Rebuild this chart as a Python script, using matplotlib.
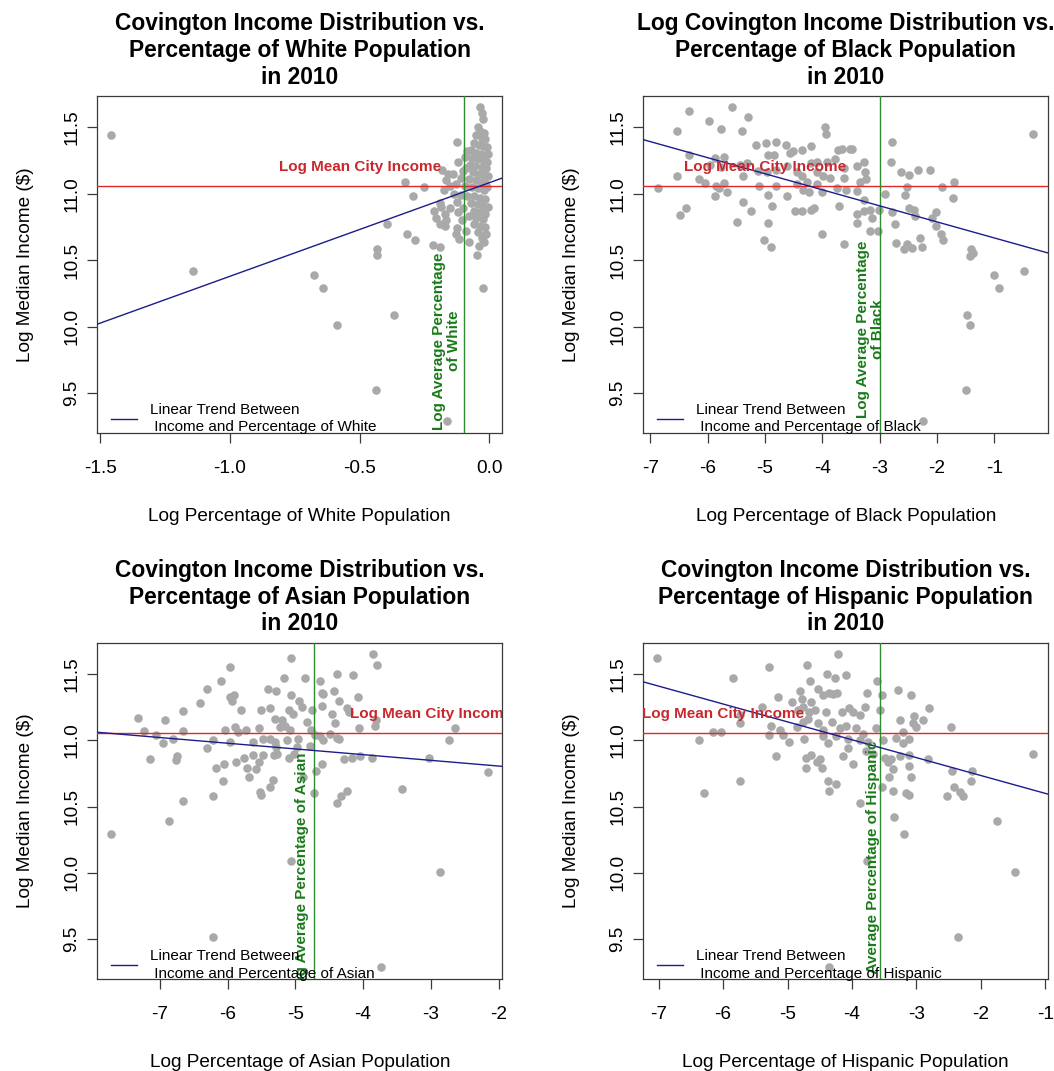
import matplotlib
matplotlib.use("Agg")
import matplotlib.pyplot as plt
from matplotlib.lines import Line2D

plt.rcParams["font.family"] = ["Liberation Sans", "DejaVu Sans"]
plt.rcParams["axes.unicode_minus"] = False

# ---- Covington census tracts, 2010: log share of each group vs log median income ----
white_x = [-1.457, -1.143, -0.677, -0.642, -0.586, -0.438, -0.433, -0.433, -0.393, -0.366,
           -0.326, -0.318, -0.293, -0.286, -0.250, -0.216, -0.190, -0.162, -0.123, -0.046,
           -0.024, -0.183, -0.215, -0.190, -0.205,
           -0.036, -0.030, -0.026, -0.045, -0.035, -0.020, -0.050, -0.028, -0.015, -0.060,
           -0.040, -0.025, -0.010, -0.070, -0.085, -0.050, -0.032, -0.018, -0.005, -0.095,
           -0.065, -0.042, -0.020, -0.008, -0.120, -0.075, -0.055, -0.030, -0.012, -0.088,
           -0.100, -0.140, -0.062, -0.040, -0.022, -0.005, -0.110, -0.078, -0.050, -0.030,
           -0.015, -0.160, -0.165, -0.150, -0.130, -0.095, -0.068, -0.042, -0.020, -0.008,
           -0.175, -0.135, -0.110, -0.085, -0.058, -0.035, -0.015, -0.125, -0.070, -0.045,
           -0.025, -0.005, -0.190, -0.185, -0.150, -0.100, -0.060, -0.035, -0.015, -0.170,
           -0.120, -0.080, -0.050, -0.025, -0.165, -0.105, -0.060, -0.035, -0.015, -0.170,
           -0.125, -0.090, -0.045, -0.022, -0.130, -0.115, -0.080, -0.030, -0.012, -0.040,
           -0.020]
white_y = [11.445, 10.42, 10.387, 10.29, 10.01, 9.523, 10.58, 10.54, 10.77, 10.086,
           11.09, 10.70, 10.98, 10.65, 11.05, 10.616, 10.60, 9.29, 11.39, 10.535,
           10.29, 11.18, 10.87, 10.77, 10.82,
           11.65, 11.61, 11.56, 11.50, 11.47, 11.46, 11.44, 11.42, 11.41, 11.38,
           11.37, 11.36, 11.35, 11.33, 11.32, 11.31, 11.30, 11.29, 11.30, 11.28,
           11.27, 11.26, 11.25, 11.24, 11.24, 11.22, 11.21, 11.20, 11.19, 11.19,
           11.17, 11.15, 11.16, 11.15, 11.14, 11.13, 11.12, 11.11, 11.10, 11.09,
           11.08, 11.15, 11.10, 11.06, 11.07, 11.06, 11.05, 11.04, 11.03, 11.05,
           11.03, 11.00, 10.99, 10.98, 10.98, 10.97, 10.96, 10.94, 10.93, 10.92,
           10.91, 10.90, 10.93, 10.90, 10.89, 10.89, 10.87, 10.86, 10.85, 10.85,
           10.86, 10.83, 10.82, 10.81, 10.80, 10.80, 10.77, 10.76, 10.75, 10.76,
           10.74, 10.72, 10.71, 10.69, 10.70, 10.66, 10.64, 10.67, 10.70, 10.61,
           10.64]

black_x = [-6.32, -5.58, -5.30, -5.97, -6.54, -5.77, -5.40, -3.95, -3.94, -0.32,
           -6.32, -5.87, -5.71, -5.16, -4.99, -4.80, -4.63, -4.52, -4.35, -4.19,
           -4.94, -4.84, -4.56, -3.72, -3.66, -3.52, -3.48, -2.78, -6.54, -6.16,
           -6.05, -5.85, -5.81, -5.71, -5.87, -5.67, -5.39, -5.39, -5.25, -5.48,
           -5.10, -4.95, -4.87, -4.94, -4.80, -4.62, -4.48, -4.35, -4.19, -4.15,
           -4.01, -4.00, -3.71, -3.62, -5.02, -4.90, -6.38, -6.49, -6.87, -5.96,
           -5.76, -5.44, -5.32, -5.12, -4.97, -4.80, -4.62, -4.45, -4.36, -4.27,
           -4.10, -3.98, -3.87, -3.78, -4.19, -4.10, -3.92, -3.63, -3.63, -3.40,
           -3.28, -3.26, -3.34, -3.23, -3.75, -3.58, -3.40, -3.28, -3.40, -3.28,
           -3.17, -3.14, -3.40, -3.17, -3.03, -3.01, -4.45, -4.33, -4.24, -4.10,
           -2.81, -2.91, -2.79, -2.73, -2.72, -2.62, -2.48, -2.34, -2.12, -2.53,
           -2.55, -2.48, -2.41, -2.38, -2.30, -2.27, -2.58, -2.53, -2.44, -2.09,
           -2.02, -2.02, -1.93, -1.89, -1.92, -1.72, -1.70, -1.40, -1.37, -1.42,
           -1.01, -0.92, -0.49, -1.48, -1.43, -1.49, -2.25]
black_y = [11.62, 11.65, 11.58, 11.55, 11.47, 11.49, 11.47, 11.50, 11.45, 11.45,
           11.29, 11.27, 11.28, 11.37, 11.38, 11.39, 11.37, 11.32, 11.33, 11.36,
           11.29, 11.29, 11.31, 11.33, 11.34, 11.34, 11.34, 11.39, 11.13, 11.11,
           11.08, 11.06, 11.04, 11.08, 10.98, 11.01, 11.13, 10.94, 10.87, 10.79,
           11.06, 10.99, 10.91, 10.78, 11.06, 10.98, 10.87, 10.87, 10.88, 10.89,
           11.01, 10.70, 10.91, 10.62, 10.65, 10.60, 10.89, 10.84, 11.04, 11.22,
           11.20, 11.22, 11.23, 11.17, 11.16, 11.18, 11.21, 11.16, 11.13, 11.09,
           11.07, 11.13, 11.12, 11.26, 11.23, 11.24, 11.24, 11.19, 11.12, 11.21,
           11.24, 11.16, 11.09, 11.11, 11.04, 11.03, 11.02, 10.95, 10.85, 10.87,
           10.88, 10.82, 10.78, 10.72, 10.72, 10.88, 11.07, 11.03, 11.01, 11.16,
           11.24, 11.00, 10.86, 10.77, 10.63, 11.16, 11.14, 11.18, 11.18, 11.05,
           10.99, 10.89, 10.88, 10.83, 10.67, 10.60, 10.58, 10.62, 10.59, 10.82,
           10.86, 10.76, 10.70, 10.65, 11.05, 10.97, 11.09, 10.58, 10.55, 10.53,
           10.39, 10.29, 10.42, 10.09, 10.01, 9.52, 9.29]

asian_x = [-5.06, -3.86, -3.79, -5.97, -6.09, -6.30, -6.41, -6.66, -7.32, -6.93,
           -5.17, -4.86, -4.64, -4.38, -4.15, -5.40, -5.29, -5.06, -5.96, -5.91,
           -5.94, -5.80, -5.50, -5.37, -4.94, -4.90, -5.09, -5.03, -5.20, -5.30,
           -4.83, -4.76, -4.61, -4.59, -4.43, -4.35, -4.08, -4.61, -4.46, -4.41,
           -4.24, -4.20, -4.06, -3.82, -3.81, -2.64, -2.73, -3.02, -2.16, -3.42,
           -7.24, -7.06, -6.66, -6.95, -6.81, -6.31, -6.21, -6.04, -5.89, -5.73,
           -5.54, -5.96, -5.84, -5.62, -5.48, -5.37, -5.30, -5.12, -4.96, -4.77,
           -4.71, -4.64, -4.49, -4.39, -4.35, -5.29, -7.15, -6.74, -6.76, -6.17,
           -6.05, -5.87, -5.76, -5.63, -5.48, -5.53, -5.58, -5.72, -5.68, -5.32,
           -5.27, -5.09, -5.02, -4.98, -6.07, -5.33, -5.38, -5.52, -5.50, -6.21,
           -6.66, -6.87, -7.72, -5.07, -4.61, -4.69, -4.72, -4.39, -4.32, -4.23,
           -4.28, -4.17, -4.05, -3.87, -2.87, -6.22, -3.74, -4.88, -4.78, -4.59,
           -5.23, -5.15, -5.08]
asian_y = [11.62, 11.65, 11.57, 11.55, 11.45, 11.39, 11.28, 11.22, 11.17, 11.15,
           11.47, 11.47, 11.45, 11.50, 11.49, 11.39, 11.37, 11.34, 11.33, 11.34,
           11.30, 11.23, 11.23, 11.24, 11.30, 11.25, 11.23, 11.20, 11.15, 11.16,
           11.14, 11.23, 11.36, 11.35, 11.37, 11.30, 11.33, 11.26, 11.20, 11.13,
           11.24, 11.21, 11.09, 11.11, 11.15, 11.09, 11.00, 10.87, 10.76, 10.63,
           11.07, 11.04, 11.07, 10.98, 11.01, 10.94, 11.00, 11.08, 11.10, 11.08,
           11.09, 10.99, 11.06, 10.99, 11.01, 11.01, 10.99, 11.00, 11.01, 11.08,
           11.04, 11.03, 11.05, 11.02, 11.01, 10.95, 10.86, 10.88, 10.85, 10.79,
           10.82, 10.84, 10.87, 10.89, 10.89, 10.84, 10.78, 10.79, 10.72, 10.89,
           10.90, 10.87, 10.90, 10.95, 10.69, 10.70, 10.65, 10.61, 10.59, 10.58,
           10.54, 10.39, 10.29, 10.09, 10.82, 10.77, 10.60, 10.53, 10.58, 10.62,
           10.86, 10.87, 10.88, 10.87, 10.01, 9.52, 9.29, 10.72, 10.96, 11.00,
           11.10, 11.11, 11.08]

hispanic_x = [-7.02, -5.85, -5.29, -4.69, -4.21, -4.38, -4.27, -4.10, -4.65, -3.61,
              -4.53, -4.36, -4.29, -4.23, -4.80, -5.14, -4.93, -4.78, -4.63, -4.45,
              -3.76, -3.53, -3.28, -3.08, -5.40, -4.84, -4.76, -4.66, -4.57, -4.40,
              -4.15, -4.04, -3.98, -3.88, -3.79, -3.57, -2.81, -3.04, -2.89, -3.25,
              -3.00, -3.05, -2.46, -1.19, -5.74, -5.74, -6.16, -6.03, -6.37, -5.26,
              -5.12, -5.07, -4.86, -4.76, -4.68, -4.53, -4.45, -4.31, -4.18, -4.09,
              -3.93, -3.83, -3.63, -5.28, -4.98, -4.75, -4.45, -4.37, -4.24, -4.06,
              -3.88, -3.75, -3.52, -3.31, -3.21, -3.12, -3.21, -5.18, -4.72, -4.63,
              -4.50, -4.55, -4.71, -4.47, -4.14, -4.06, -3.98, -3.78, -3.68, -3.49,
              -3.39, -3.44, -3.26, -3.11, -3.12, -2.82, -3.08, -3.43, -3.36, -2.44,
              -2.13, -2.16, -2.41, -2.33, -2.28, -2.53, -3.16, -3.11, -3.36, -3.53,
              -4.37, -4.24, -4.35, -5.74, -6.30, -3.88, -3.35, -3.19, -1.75, -1.47,
              -3.76, -2.35, -4.35]
hispanic_y = [11.62, 11.47, 11.55, 11.57, 11.65, 11.50, 11.47, 11.49, 11.45, 11.45,
              11.39, 11.36, 11.35, 11.36, 11.37, 11.33, 11.29, 11.31, 11.29, 11.34,
              11.36, 11.34, 11.38, 11.34, 11.25, 11.23, 11.25, 11.21, 11.23, 11.21,
              11.21, 11.24, 11.21, 11.19, 11.25, 11.23, 11.24, 11.18, 11.15, 11.15,
              11.10, 11.13, 11.10, 10.90, 11.19, 11.13, 11.06, 11.06, 11.00, 11.11,
              11.08, 11.04, 11.10, 11.14, 11.16, 11.13, 11.08, 11.14, 11.09, 11.11,
              11.09, 11.05, 11.09, 11.04, 10.99, 11.01, 11.03, 10.98, 11.03, 11.01,
              11.00, 10.99, 11.00, 11.02, 11.06, 11.01, 10.98, 10.88, 10.87, 10.89,
              10.86, 10.84, 10.79, 10.79, 10.88, 10.94, 10.82, 10.92, 10.90, 10.87,
              10.86, 10.84, 10.88, 10.89, 10.81, 10.86, 10.72, 10.72, 10.78, 10.77,
              10.77, 10.69, 10.65, 10.61, 10.58, 10.58, 10.60, 10.59, 10.62, 10.65,
              10.69, 10.67, 10.62, 10.69, 10.60, 10.53, 10.42, 10.29, 10.39, 10.01,
              10.09, 9.52, 9.29]

groups = ["White", "Black", "Asian", "Hispanic"]
titles = [
    "Covington Income Distribution vs.\nPercentage of White Population\nin 2010",
    "Log Covington Income Distribution vs.\nPercentage of Black Population\nin 2010",
    "Covington Income Distribution vs.\nPercentage of Asian Population\nin 2010",
    "Covington Income Distribution vs.\nPercentage of Hispanic Population\nin 2010",
]
avg_labels = [
    "Log Average Percentage\nof White",
    "Log Average Percentage\nof Black",
    "Log Average Percentage of Asian",
    "Log Average Percentage of Hispanic",
]

log_mean_income = 11.058                       # red reference line
log_avg_share = [-0.0975, -2.99, -4.72, -3.565]  # green reference lines
trend_intercept = [11.083, 10.546, 10.720, 10.465]
trend_slope = [0.705, -0.1209, -0.043, -0.1348]

x_ticks = [[-1.5, -1.0, -0.5, 0.0],
           [-7, -6, -5, -4, -3, -2, -1],
           [-7, -6, -5, -4, -3, -2],
           [-7, -6, -5, -4, -3, -2, -1]]
x_tick_labels = [["-1.5", "-1.0", "-0.5", "0.0"],
                 ["-7", "-6", "-5", "-4", "-3", "-2", "-1"],
                 ["-7", "-6", "-5", "-4", "-3", "-2"],
                 ["-7", "-6", "-5", "-4", "-3", "-2", "-1"]]
y_ticks = [9.5, 10.0, 10.5, 11.0, 11.5]
y_tick_labels = ["9.5", "10.0", "10.5", "11.0", "11.5"]

x_limits = [(-1.511, 0.049), (-7.123, -0.059), (-7.923, -1.944), (-7.238, -0.953)]
y_limits = (9.198, 11.736)

# label anchor points (data units)
mean_label_x = [-0.5, -5.0, -3.0, -6.0]
mean_label_y = 11.2
avg_label_xy = [(-0.164, 9.89), (-3.16, 9.98), (-4.90, 10.0), (-3.68, 10.0)]

xs = [white_x, black_x, asian_x, hispanic_x]
ys = [white_y, black_y, asian_y, hispanic_y]

POINT = "#A9A9A9"
RED_LINE = "#E02828"
RED_TEXT = "#C8282E"
GREEN_LINE = "#2E8B2E"
GREEN_TEXT = "#1A7A1A"
BLUE = "#1C1C8C"
FRAME = "#3A3A3A"

BASE = 13.7
SMALL = 11.0
TITLE = 16.4

fig = plt.figure(figsize=(10.54, 10.71), dpi=100)
W, H = 1054, 1071
boxes = [(97.3, 96, 502, 433), (643.3, 96, 1048.3, 433),
         (97.3, 642.7, 502.3, 979.3), (643.3, 642.7, 1048.3, 979.3)]

for i in range(4):
    l, t, r, b = boxes[i]
    ax = fig.add_axes([l / W, 1 - b / H, (r - l) / W, (b - t) / H])

    ax.scatter(xs[i], ys[i], s=38, color=POINT, linewidths=0, zorder=2)

    ax.axhline(log_mean_income, color=RED_LINE, lw=1.0, zorder=3)
    ax.axvline(log_avg_share[i], color=GREEN_LINE, lw=1.0, zorder=3)
    ax.axline((0, trend_intercept[i]), slope=trend_slope[i], color=BLUE, lw=1.0, zorder=4)

    ax.text(mean_label_x[i], mean_label_y, "Log Mean City Income", color=RED_TEXT,
            fontsize=SMALL, fontweight="bold", ha="center", va="center",
            clip_on=True, zorder=5)
    gx, gy = avg_label_xy[i]
    ax.text(gx, gy, avg_labels[i], color=GREEN_TEXT, fontsize=SMALL,
            fontweight="bold", rotation=90, ha="center", va="center",
            multialignment="center", linespacing=1.05, clip_on=True, zorder=5)

    handle = Line2D([], [], color=BLUE, lw=1.0)
    leg = ax.legend([handle],
                    ["Linear Trend Between\n Income and Percentage of " + groups[i]],
                    loc="lower left", bbox_to_anchor=(0.033, -0.004), frameon=False,
                    fontsize=SMALL, handlelength=1.75, handletextpad=0.85,
                    borderaxespad=0, borderpad=0)
    for txt in leg.get_texts():
        txt.set_linespacing(1.3)

    ax.set_xlim(*x_limits[i])
    ax.set_ylim(*y_limits)
    ax.set_xticks(x_ticks[i])
    ax.set_xticklabels(x_tick_labels[i])
    ax.set_yticks(y_ticks)
    ax.set_yticklabels(y_tick_labels, rotation=90, va="center")

    ax.tick_params(axis="both", direction="out", length=7.2, width=0.9,
                   color=FRAME, labelsize=BASE)
    ax.tick_params(axis="x", pad=12)
    ax.tick_params(axis="y", pad=5)
    for sp in ax.spines.values():
        sp.set_color(FRAME)
        sp.set_linewidth(0.9)

    ax.set_xlabel("Log Percentage of %s Population" % groups[i], fontsize=BASE, labelpad=22.5)
    ax.set_ylabel("Log Median Income ($)", fontsize=BASE, labelpad=21)
    ax.set_title(titles[i], fontsize=TITLE, fontweight="bold", pad=9, linespacing=1.2)

fig.savefig("out.png", dpi=100)
